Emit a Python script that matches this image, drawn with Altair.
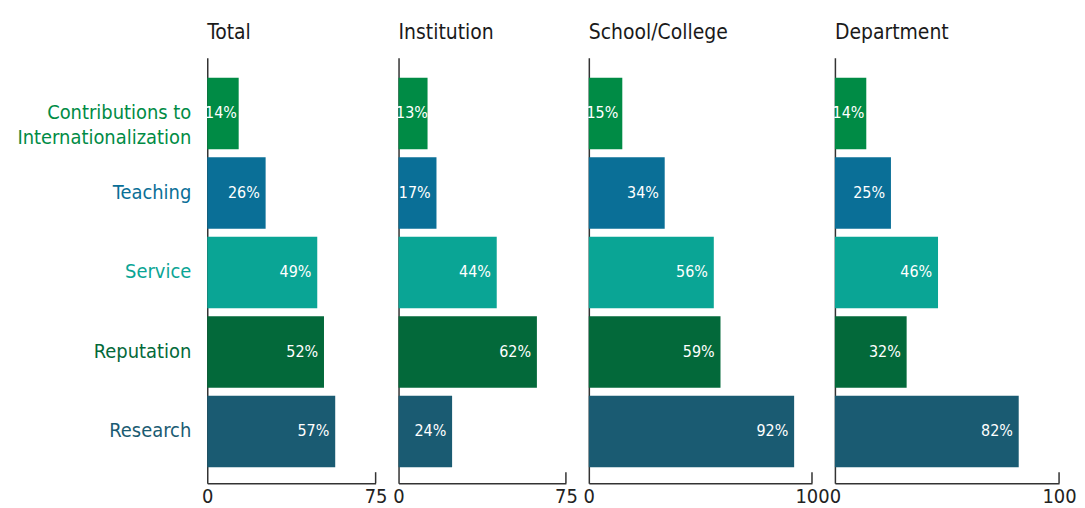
import altair as alt
import pandas as pd

categories = ["Contributions to Internationalization", "Teaching", "Service", "Reputation", "Research"]
category_lines = ["Contributions to\nInternationalization", "Teaching", "Service", "Reputation", "Research"]
colors = ["#008B45", "#0A6F97", "#0AA595", "#03693A", "#1A5B72"]
panels = ["Total", "Institution", "School/College", "Department"]
total = [14, 26, 49, 52, 57]
institution = [13, 17, 44, 62, 24]
school = [15, 34, 56, 59, 92]
department = [14, 25, 46, 32, 82]
axis_max = [75, 75, 100, 100]
panel_widths = [169, 168, 224, 225]

FONT = "DejaVu Sans Condensed, Liberation Sans Narrow, sans-serif"
H = 427
AXC = "#333333"


def make_panel(title, values, vmax, width, show_labels):
    df = pd.DataFrame({
        "category": categories,
        "display": category_lines,
        "value": values,
        "label": [f"{v}%" for v in values],
    })
    base = alt.Chart(df)
    y = alt.Y("category:N", sort=categories,
              scale=alt.Scale(paddingInner=0.1, paddingOuter=0.2255, align=0.556),
              axis=alt.Axis(labels=False, ticks=False, title=None,
                            domainColor=AXC, domainWidth=1.5))
    xscale = alt.Scale(domain=[0, vmax], nice=False)
    x = alt.X("value:Q", scale=xscale,
              axis=alt.Axis(values=[0, vmax], ticks=False, grid=False, title=None,
                            labelFlush=False, labelFontSize=20, labelFont=FONT,
                            labelColor="#222222", labelPadding=3,
                            domainColor=AXC, domainWidth=1.5))
    color = alt.Color("category:N", scale=alt.Scale(domain=categories, range=colors), legend=None)
    bars = base.mark_bar().encode(x=x, y=y, color=color)
    text = base.transform_calculate(
        lx="max(datum.value - 2.6, 13.2)"
    ).mark_text(align="right", baseline="middle", color="white",
                fontSize=16, font=FONT).encode(x=alt.X("lx:Q", scale=xscale), y=y, text="label")
    tick = alt.Chart(pd.DataFrame({"v": [vmax]})).mark_rule(color=AXC, strokeWidth=1.5).encode(
        x=alt.X("v:Q"), y=alt.value(H - 11), y2=alt.value(H))
    layers = [bars, text, tick]
    if show_labels:
        cat_text = base.mark_text(align="right", baseline="middle", dx=-16, fontSize=20,
                                  font=FONT, lineBreak="\n", lineHeight=25).encode(
            x=alt.value(0), y=y, text="display", color=color)
        layers.append(cat_text)
    return alt.layer(*layers).properties(
        width=width, height=H,
        title=alt.TitleParams(title, anchor="start", frame="group", fontSize=21, font=FONT,
                              fontWeight="normal", color="#1a1a1a", offset=15),
    )


series = [total, institution, school, department]
charts = [make_panel(panels[i], series[i], axis_max[i], panel_widths[i], i == 0) for i in range(4)]

chart = alt.hconcat(*charts, spacing=23, bounds="flush").configure_view(stroke=None).properties(
    padding={"left": 9, "top": 13, "right": 0, "bottom": 0})

chart.save("out.html", embed_options={"renderer": "svg", "actions": False})
